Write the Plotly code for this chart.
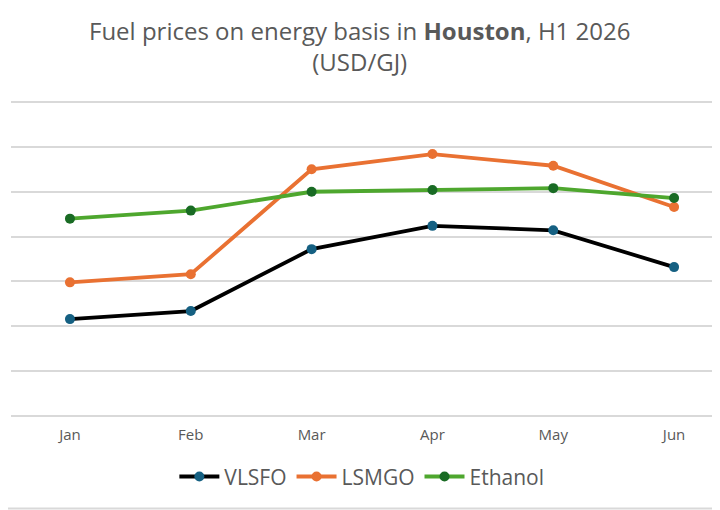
"""Fuel prices on energy basis in Houston, H1 2026 (USD/GJ)."""

import plotly.graph_objects as go

months = ["Jan", "Feb", "Mar", "Apr", "May", "Jun"]
vlsfo = [10.8, 11.7, 18.6, 21.2, 20.7, 16.6]
lsmgo = [14.9, 15.8, 27.5, 29.2, 27.9, 23.3]
ethanol = [22.0, 22.9, 25.0, 25.2, 25.4, 24.3]

FONT = "Open Sans"
GREY = "#595959"
GRID = "#D9D9D9"

series = [
    ("VLSFO", vlsfo, "#000000", "#156082"),
    ("LSMGO", lsmgo, "#E97132", "#E97132"),
    ("Ethanol", ethanol, "#4EA72E", "#196B24"),
]

fig = go.Figure()
for name, values, line_color, marker_color in series:
    fig.add_trace(go.Scatter(
        x=months,
        y=values,
        mode="lines+markers",
        name=name,
        line=dict(color=line_color, width=3.8),
        marker=dict(color=marker_color, size=10),
    ))

# bottom edge of the chart frame
fig.add_shape(
    type="line", xref="paper", yref="paper",
    x0=-0.1, x1=1.1, y0=-0.292, y1=-0.292,
    line=dict(color=GRID, width=2),
)

# the page body adds 8px, so the figure is drawn 8px smaller and shifted
fig.update_layout(
    width=712,
    height=502,
    margin=dict(l=3, r=0, t=91, b=94),
    plot_bgcolor="white",
    paper_bgcolor="white",
    font=dict(family=FONT, color=GREY),
    title=dict(
        text="Fuel prices on energy basis in <b>Houston</b>, H1 2026<br>(USD/GJ)",
        x=0.494, xref="container", xanchor="center",
        y=0.936, yref="container", yanchor="top",
        font=dict(family=FONT, size=24, color=GREY),
    ),
    showlegend=True,
    legend=dict(
        orientation="h",
        x=0.497, xref="container", xanchor="center",
        y=0.066, yref="container", yanchor="middle",
        font=dict(family=FONT, size=21, color=GREY),
        itemwidth=40,
    ),
    xaxis=dict(
        type="category",
        range=[-0.488, 5.38],
        showgrid=False,
        showline=False,
        ticks="",
        ticklabelstandoff=8,
        tickfont=dict(family=FONT, size=15, color=GREY),
    ),
    yaxis=dict(
        range=[0, 35.34],
        dtick=5,
        showgrid=True,
        gridcolor=GRID,
        gridwidth=1.5,
        zeroline=True,
        zerolinecolor=GRID,
        zerolinewidth=1.5,
        showticklabels=False,
        ticks="",
    ),
)

fig.write_html("out.html")
